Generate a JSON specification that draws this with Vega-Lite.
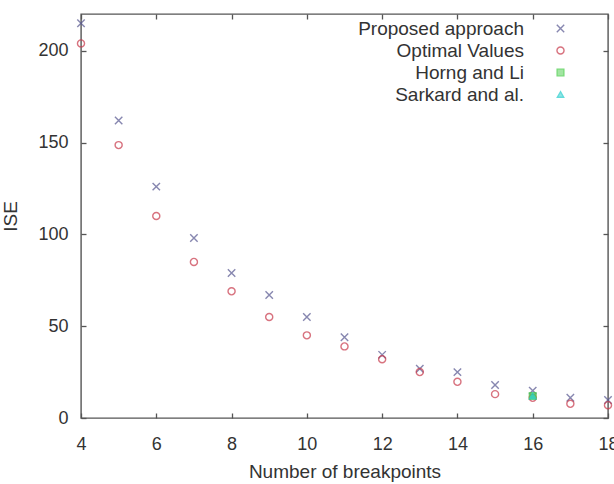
{
  "$schema": "https://vega.github.io/schema/vega-lite/v6.json",
  "width": 527,
  "height": 404,
  "autosize": {"type": "none"},
  "padding": {"left": 81, "top": 14, "right": 6, "bottom": 66},
  "background": "white",
  "config": {
    "font": "Liberation Sans",
    "view": {"stroke": "#555555", "strokeWidth": 1.4},
    "axis": {"grid": false, "domain": false, "labelColor": "#333333", "titleColor": "#333333", "labelFont": "Liberation Sans", "titleFont": "Liberation Sans", "titleFontWeight": "normal", "labelFontSize": 18, "titleFontSize": 19, "labelFlush": false, "tickColor": "#555555", "tickWidth": 1.3}
  },
  "data": {
    "values": [
      {"n": 4, "ise": 215, "s": "Proposed approach"},
      {"n": 5, "ise": 162, "s": "Proposed approach"},
      {"n": 6, "ise": 126, "s": "Proposed approach"},
      {"n": 7, "ise": 98, "s": "Proposed approach"},
      {"n": 8, "ise": 79, "s": "Proposed approach"},
      {"n": 9, "ise": 67, "s": "Proposed approach"},
      {"n": 10, "ise": 55, "s": "Proposed approach"},
      {"n": 11, "ise": 44, "s": "Proposed approach"},
      {"n": 12, "ise": 34.4, "s": "Proposed approach"},
      {"n": 13, "ise": 26.8, "s": "Proposed approach"},
      {"n": 14, "ise": 25, "s": "Proposed approach"},
      {"n": 15, "ise": 18, "s": "Proposed approach"},
      {"n": 16, "ise": 14.9, "s": "Proposed approach"},
      {"n": 17, "ise": 11, "s": "Proposed approach"},
      {"n": 18, "ise": 9.8, "s": "Proposed approach"},
      {"n": 4, "ise": 204, "s": "Optimal Values"},
      {"n": 5, "ise": 148.6, "s": "Optimal Values"},
      {"n": 6, "ise": 110, "s": "Optimal Values"},
      {"n": 7, "ise": 85, "s": "Optimal Values"},
      {"n": 8, "ise": 69, "s": "Optimal Values"},
      {"n": 9, "ise": 55, "s": "Optimal Values"},
      {"n": 10, "ise": 45, "s": "Optimal Values"},
      {"n": 11, "ise": 39, "s": "Optimal Values"},
      {"n": 12, "ise": 32, "s": "Optimal Values"},
      {"n": 13, "ise": 25, "s": "Optimal Values"},
      {"n": 14, "ise": 19.7, "s": "Optimal Values"},
      {"n": 15, "ise": 13, "s": "Optimal Values"},
      {"n": 16, "ise": 11, "s": "Optimal Values"},
      {"n": 17, "ise": 7.7, "s": "Optimal Values"},
      {"n": 18, "ise": 7, "s": "Optimal Values"},
      {"n": 16, "ise": 12, "s": "Horng and Li"},
      {"n": 16, "ise": 12, "s": "Sarkard and al."}
    ]
  },
  "resolve": {"axis": {"x": "independent", "y": "independent"}},
  "layer": [
    {
      "mark": {"type": "point", "strokeWidth": 1.4, "clip": false},
      "encoding": {
        "x": {"field": "n", "type": "quantitative", "title": "Number of breakpoints",
          "scale": {"domain": [4, 18], "nice": false, "zero": false},
          "axis": {"orient": "bottom", "values": [4, 6, 8, 10, 12, 14, 16, 18], "ticks": true, "tickSize": 5, "offset": -5, "labelPadding": 17, "titlePadding": 9}},
        "y": {"field": "ise", "type": "quantitative", "title": "ISE",
          "scale": {"domain": [0, 220], "nice": false},
          "axis": {"orient": "left", "values": [0, 50, 100, 150, 200], "ticks": true, "tickSize": 5, "offset": -5, "labelPadding": 13, "titlePadding": 17}},
        "color": {"field": "s", "type": "nominal",
          "scale": {"domain": ["Proposed approach", "Optimal Values", "Horng and Li", "Sarkard and al."], "range": ["#55558f", "#c8384a", "#44cc44", "#22cccc"]},
          "legend": {"orient": "none", "legendX": 470, "legendY": 5, "title": null, "labelAlign": "right", "labelOffset": -46, "labelLimit": 400, "labelFontSize": 19, "labelColor": "#333333", "symbolSize": 45, "symbolStrokeWidth": 1.4, "rowPadding": 2}},
        "shape": {"field": "s", "type": "nominal",
          "scale": {"domain": ["Proposed approach", "Optimal Values", "Horng and Li", "Sarkard and al."], "range": ["M-1,-1L1,1M-1,1L1,-1", "circle", "square", "triangle-up"]},
          "legend": null},
        "fill": {"field": "s", "type": "nominal",
          "scale": {"domain": ["Proposed approach", "Optimal Values", "Horng and Li", "Sarkard and al."], "range": ["transparent", "transparent", "#44cc44", "#22cccc"]},
          "legend": null},
        "size": {"field": "s", "type": "nominal",
          "scale": {"domain": ["Proposed approach", "Optimal Values", "Horng and Li", "Sarkard and al."], "range": [55, 40, 40, 70]},
          "legend": null}
      }
    },
    {
      "mark": {"type": "point", "opacity": 0},
      "encoding": {
        "x": {"field": "n", "type": "quantitative",
          "axis": {"orient": "top", "values": [4, 6, 8, 10, 12, 14, 16, 18], "labels": false, "title": null, "ticks": true, "tickSize": 5, "offset": -5}},
        "y": {"field": "ise", "type": "quantitative",
          "axis": {"orient": "right", "values": [0, 50, 100, 150, 200], "labels": false, "title": null, "ticks": true, "tickSize": 5, "offset": -5}}
      }
    }
  ]
}
